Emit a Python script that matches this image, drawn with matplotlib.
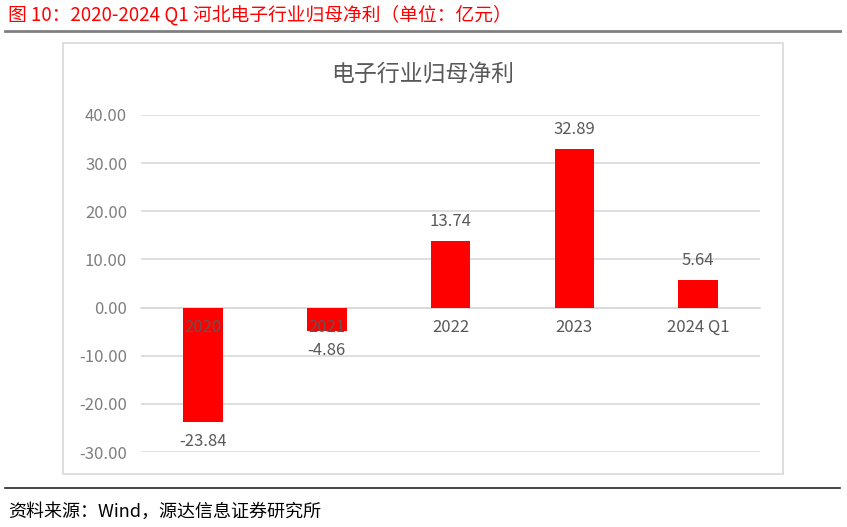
import matplotlib.pyplot as plt
from matplotlib.patches import Rectangle
from matplotlib.lines import Line2D

plt.rcParams['font.family'] = ['Noto Sans CJK SC', 'DejaVu Sans']
plt.rcParams['axes.unicode_minus'] = False

# data
categories = ["2020", "2021", "2022", "2023", "2024 Q1"]
profit = [-23.84, -4.86, 13.74, 32.89, 5.64]
yticks = [-30, -20, -10, 0, 10, 20, 30, 40]

fig = plt.figure(figsize=(8.47, 5.27), dpi=100)

# outer chart frame
fig.patches.append(Rectangle((0.0744, 0.1006), 0.850, 0.8178, transform=fig.transFigure,
                             fill=False, edgecolor="#d9d9d9", linewidth=1.2))

# title and rules
fig.text(0.009, 0.971, "图 10：2020-2024 Q1 河北电子行业归母净利（单位：亿元）",
         color="#ff0000", fontsize=13.5, ha="left", va="center")
fig.lines.append(Line2D([0.006, 0.992], [0.941, 0.941], transform=fig.transFigure,
                        color="#7f7f7f", linewidth=2))
fig.lines.append(Line2D([0.006, 0.992], [0.074, 0.074], transform=fig.transFigure,
                        color="#262626", linewidth=1.2))
fig.text(0.009, 0.029, "资料来源：Wind，源达信息证券研究所",
         color="#000000", fontsize=13, ha="left", va="center")

ax = fig.add_axes([0.1665, 0.1423, 0.7308, 0.6395])
x = range(len(categories))
ax.bar(x, profit, width=0.32, color="#ff0000", zorder=3)

ax.set_xlim(-0.5, len(categories) - 0.5)
ax.set_ylim(-30, 40)
ax.set_yticks(yticks)
ax.set_yticklabels([f"{v:.2f}" for v in yticks])
ax.yaxis.grid(True, color="#d9d9d9", linewidth=1.2, zorder=0)
ax.set_axisbelow(True)

ax.set_xticks(list(x))
ax.set_xticklabels([])
ax.spines["bottom"].set_position(("data", 0))
ax.spines["bottom"].set_color("#d9d9d9")
ax.spines["bottom"].set_linewidth(1.2)
for s in ["top", "right", "left"]:
    ax.spines[s].set_visible(False)
ax.tick_params(axis="x", length=0)
ax.tick_params(axis="y", length=0, pad=10, labelsize=12, labelcolor="#7f7f7f")
for lbl in ax.get_yticklabels():
    lbl.set_fontweight("light")

# category labels sit on top of the bars, just under the zero line
for i, c in enumerate(categories):
    ax.annotate(c, (i, 0), xytext=(0, -14), textcoords="offset points",
                ha="center", va="center", fontsize=12, color="#595959",
                fontweight="light", zorder=6)

for i, v in enumerate(profit):
    off = 14 if v > 0 else -14
    ax.annotate(f"{v:.2f}", (i, v), xytext=(0, off), textcoords="offset points",
                ha="center", va="center", fontsize=12, color="#595959",
                fontweight="light")

fig.text(0.4994, 0.859, "电子行业归母净利", color="#595959", fontsize=16.5,
         ha="center", va="center", fontweight="light")

fig.savefig("out.png", dpi=100)
